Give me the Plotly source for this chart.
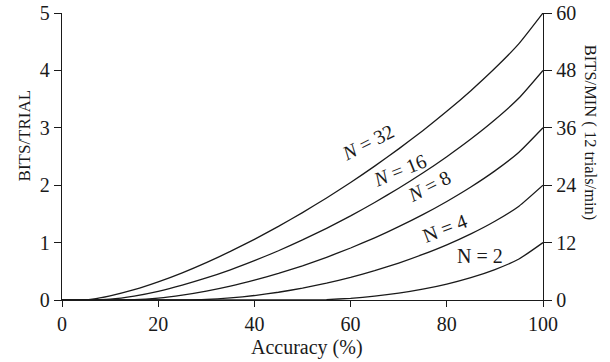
import plotly.graph_objects as go

accuracy = [0, 5, 10, 15, 20, 25, 30, 35, 40, 45, 50, 55, 60, 65, 70, 75, 80, 85, 90, 95, 100]

bits_n32 = [0, 0, 0.072, 0.179, 0.315, 0.473, 0.651, 0.846, 1.057, 1.282, 1.523,
            1.778, 2.047, 2.332, 2.633, 2.950, 3.287, 3.647, 4.036, 4.466, 5.0]
bits_n16 = [0, 0, 0.015, 0.069, 0.152, 0.259, 0.384, 0.526, 0.685, 0.858, 1.046,
            1.249, 1.466, 1.699, 1.947, 2.212, 2.497, 2.804, 3.140, 3.519, 4.0]
bits_n8 = [0, 0, 0, 0.004, 0.032, 0.084, 0.154, 0.241, 0.345, 0.463, 0.596,
           0.744, 0.906, 1.084, 1.277, 1.487, 1.717, 1.969, 2.250, 2.574, 3.0]
bits_n4 = [0, 0, 0, 0, 0, 0, 0.009, 0.036, 0.078, 0.135, 0.207,
           0.294, 0.395, 0.511, 0.643, 0.793, 0.961, 1.152, 1.372, 1.635, 2.0]
bits_n2 = [0, 0, 0, 0, 0, 0, 0, 0, 0, 0, 0,
           0.007, 0.029, 0.066, 0.119, 0.189, 0.278, 0.390, 0.531, 0.714, 1.0]

series = [("N = 32", bits_n32), ("N = 16", bits_n16), ("N = 8", bits_n8),
          ("N = 4", bits_n4), ("N = 2", bits_n2)]

left_ticks = [0, 1, 2, 3, 4, 5]
right_ticks = [0, 12, 24, 36, 48, 60]
x_ticks = [0, 20, 40, 60, 80, 100]

# curve labels: text, x, y, angle
labels = [("<i>N</i> = 32", 63.7, 2.75, -27),
          ("<i>N</i> = 16", 70.3, 2.26, -22),
          ("<i>N</i> = 8", 76.3, 1.99, -27),
          ("N = 4", 79.7, 1.25, -21),
          ("N = 2", 86.8, 0.77, 0)]

INK = "#1a1a1a"
FONT = "Liberation Serif, Times New Roman, serif"

fig = go.Figure()
for name, vals in series:
    fig.add_trace(go.Scatter(x=accuracy, y=vals, mode="lines", name=name,
                             line=dict(color=INK, width=1.3, shape="spline", smoothing=0.5),
                             hoverinfo="skip", showlegend=False))

# invisible trace to activate the right-hand BITS/MIN axis
fig.add_trace(go.Scatter(x=[0, 100], y=[0, 60], yaxis="y2", mode="lines",
                         line=dict(width=0, color="rgba(0,0,0,0)"),
                         hoverinfo="skip", showlegend=False))

annotations = []
for text, x, y, ang in labels:
    annotations.append(dict(text=text, x=x, y=y, xref="x", yref="y", showarrow=False,
                            xanchor="center", yanchor="middle",
                            textangle=ang, font=dict(family=FONT, size=20, color=INK)))

annotations.append(dict(text="BITS/TRIAL", x=-0.078, y=0.575, xref="paper", yref="paper",
                        showarrow=False, textangle=-90, xanchor="center", yanchor="middle",
                        font=dict(family=FONT, size=17, color=INK)))
annotations.append(dict(text="BITS/MIN ( 12 trials/min)", x=1.098, y=0.582,
                        xref="paper", yref="paper", showarrow=False, textangle=90,
                        xanchor="center", yanchor="middle",
                        font=dict(family=FONT, size=16.5, color=INK)))
annotations.append(dict(text="Accuracy (%)", x=0.51, y=-0.167, xref="paper", yref="paper",
                        showarrow=False, xanchor="center", yanchor="middle",
                        font=dict(family=FONT, size=20, color=INK)))

fig.update_layout(
    width=610, height=362,
    margin=dict(l=62, r=67, t=13, b=62, autoexpand=False),
    paper_bgcolor="white", plot_bgcolor="white",
    font=dict(family=FONT, size=20, color=INK),
    hovermode=False,
    xaxis=dict(range=[0, 100], tickvals=x_ticks, ticks="outside", ticklen=6,
               tickcolor=INK, showline=True, linecolor=INK, linewidth=1.3,
               showgrid=False, zeroline=False, fixedrange=True, automargin=False),
    yaxis=dict(range=[0, 5], tickvals=left_ticks, ticks="outside", ticklen=7,
               tickcolor=INK, showline=True, linecolor=INK, linewidth=1.3,
               showgrid=False, zeroline=False, fixedrange=True, automargin=False),
    yaxis2=dict(range=[0, 60], tickvals=right_ticks, overlaying="y", side="right",
                ticks="outside", ticklen=8, tickcolor=INK, showline=True,
                linecolor=INK, linewidth=1.3, showgrid=False, zeroline=False,
                fixedrange=True, automargin=False),
    annotations=annotations,
)

fig.write_html("out.html",
               config={"displayModeBar": False, "staticPlot": True},
               post_script="document.body.style.margin='0';document.body.style.overflow='hidden';")
